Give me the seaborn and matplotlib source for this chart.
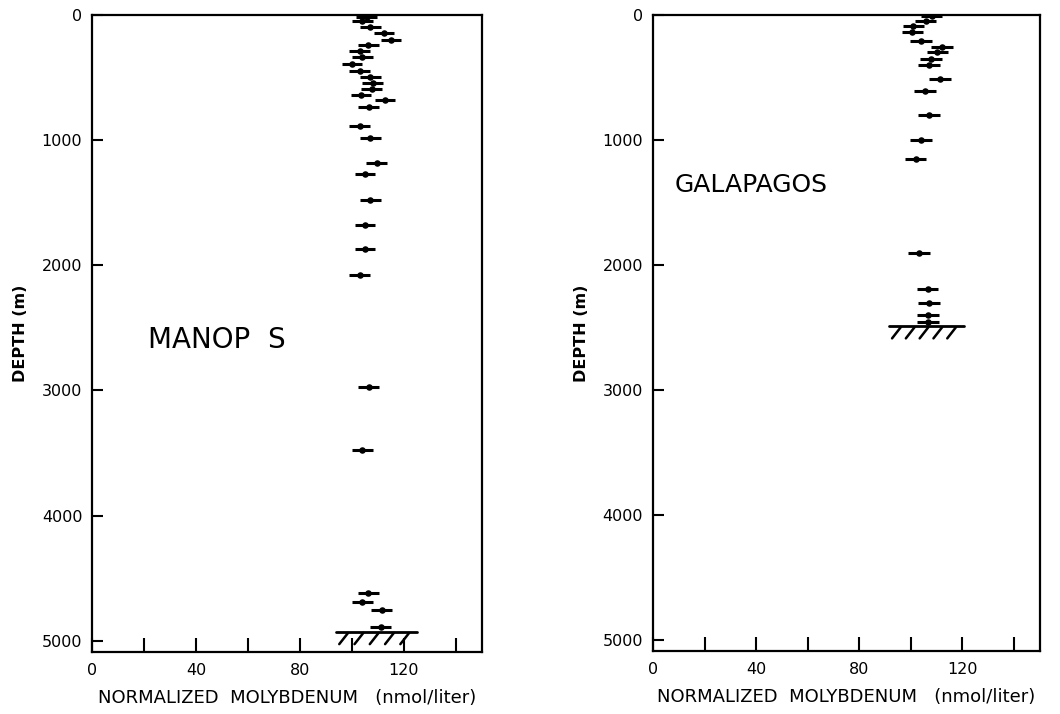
import numpy as np
import pandas as pd
import seaborn as sns
import matplotlib.pyplot as plt

# MANOP S profile
manop_depth = [20, 45, 93, 146, 197, 240, 290, 338, 391, 444, 492, 540, 593, 638,
               681, 737, 886, 979, 1179, 1269, 1479, 1676, 1873, 2075, 2970, 3472,
               4615, 4687, 4757, 4890]
manop_mo = [105.6, 104.0, 107.0, 112.3, 115.0, 106.3, 103.0, 104.0, 100.0, 103.0,
            107.0, 108.0, 107.6, 103.5, 112.7, 106.5, 103.0, 107.0, 109.5, 105.0,
            107.0, 105.0, 105.0, 103.0, 106.5, 104.0, 106.3, 104.0, 111.4, 111.1]
manop_err = [4.0] * len(manop_depth)
manop_floor = 4927

# GALAPAGOS profile
gal_depth = [8, 48, 85, 133, 210, 253, 300, 349, 401, 513, 607, 803, 1003, 1152,
             1905, 2195, 2301, 2400, 2456]
gal_mo = [108.0, 105.7, 101.0, 100.6, 103.8, 112.0, 110.3, 107.8, 107.0, 111.2,
          105.4, 107.1, 103.8, 101.8, 103.2, 106.5, 107.0, 106.7, 106.7]
gal_err = [4.2] * len(gal_depth)
gal_floor = 2488

sns.set_style("ticks")
plt.rcParams['font.family'] = ['DejaVu Sans']
plt.rcParams['text.color'] = 'black'
plt.rcParams['axes.labelcolor'] = 'black'
plt.rcParams['xtick.color'] = 'black'
plt.rcParams['ytick.color'] = 'black'

fig = plt.figure(figsize=(10.6, 7.14), dpi=100)
ax1 = fig.add_axes([0.0868, 0.0868, 0.3679, 0.8922])
ax2 = fig.add_axes([0.616, 0.0882, 0.365, 0.8908])


def draw_panel(ax, depth, mo, err, floor, floor_x, label, label_xy, label_size):
    df = pd.DataFrame({'depth': depth, 'mo': mo, 'err': err})
    ax.hlines(df['depth'], df['mo'] - df['err'], df['mo'] + df['err'],
              color='black', lw=2.2, zorder=3)
    sns.scatterplot(data=df, x='mo', y='depth', ax=ax, color='black',
                    s=22, edgecolor='black', linewidth=0, zorder=4)
    # sea floor with hatching
    ax.plot(floor_x, [floor, floor], color='black', lw=2.0, zorder=3)
    for xs in np.linspace(floor_x[0] + 4.5, floor_x[1] - 3, 5):
        ax.plot([xs, xs - 3.4], [floor + 10, floor + 100], color='black', lw=1.8)
    ax.text(label_xy[0], label_xy[1], label, fontsize=label_size,
            ha='center', va='center', color='black')

    ax.set_xlim(0, 150)
    ax.set_ylim(5090, 0)
    ax.set_xticks([0, 20, 40, 60, 80, 100, 120, 140])
    ax.set_xticklabels(['0', '', '40', '', '80', '', '120', ''])
    ax.set_yticks([0, 1000, 2000, 3000, 4000, 5000])
    ax.set_yticklabels(['0', '1000', '2000', '3000', '4000', '5000'])
    ax.tick_params(axis='x', direction='in', length=10, width=1.5,
                   labelsize=11.5, pad=8)
    ax.tick_params(axis='y', direction='in', length=8, width=1.5,
                   labelsize=11.5, pad=7)
    for sp in ax.spines.values():
        sp.set_visible(True)
        sp.set_linewidth(1.6)
        sp.set_color('black')
    ax.set_xlabel('NORMALIZED  MOLYBDENUM   (nmol/liter)', fontsize=13,
                  labelpad=8)
    ax.set_ylabel('DEPTH (m)', fontsize=11.5, labelpad=10, fontweight='semibold')


draw_panel(ax1, manop_depth, manop_mo, manop_err, manop_floor, [94, 125],
           'MANOP  S', (48, 2594), 20)
draw_panel(ax2, gal_depth, gal_mo, gal_err, gal_floor, [91.6, 120.5],
           'GALAPAGOS', (38, 1357), 18)

fig.savefig('out.png', dpi=100)
